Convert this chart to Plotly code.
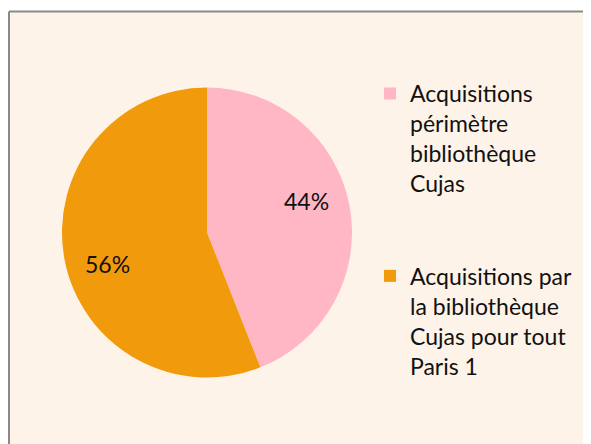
import math
import plotly.graph_objects as go

labels = ["Acquisitions<br>périmètre<br>bibliothèque<br>Cujas<br> <br> ",
          "Acquisitions par<br>la bibliothèque<br>Cujas pour tout<br>Paris 1"]
values = [44, 56]
colors = ["#FFB7C6", "#F19A0B"]

W, H = 583, 436
cx, cy, r = 199, 224.5, 145
FONT = "Lato"

fig = go.Figure(go.Pie(
    labels=labels,
    values=values,
    marker=dict(colors=colors, line=dict(width=0)),
    sort=False,
    direction="clockwise",
    rotation=0,
    textinfo="none",
    hoverinfo="label+percent",
    domain=dict(x=[(cx - r) / W, (cx + r) / W], y=[1 - (cy + r) / H, 1 - (cy - r) / H]),
))

# percent labels placed inside each slice, near its bisector (like the source's data labels)
total = sum(values)
annotations = []
start = 0.0
for v in values:
    frac = v / total
    mid = (start + frac / 2) * 2 * math.pi - math.radians(7)
    start += frac
    px = cx + 0.72 * r * math.sin(mid)
    py = cy - 0.72 * r * math.cos(mid)
    annotations.append(dict(x=px / W, y=1 - py / H, xref="paper", yref="paper",
                            xanchor="center", yanchor="middle",
                            text=f"{round(frac * 100)}%", showarrow=False,
                            font=dict(family=FONT, size=23, color="#111111")))

top = 1 - 3.5 / H
left = 1 / W
fig.update_layout(
    width=W, height=H,
    margin=dict(l=0, r=0, t=0, b=0),
    paper_bgcolor="#FEF3E8",
    font=dict(family=FONT, size=23, color="#111111"),
    showlegend=True,
    legend=dict(x=362 / W, y=1 - 64 / H, xanchor="left", yanchor="top",
                bgcolor="rgba(0,0,0,0)", valign="top",
                font=dict(family=FONT, size=23, color="#111111"),
                itemwidth=30, tracegroupgap=0),
    annotations=annotations,
    shapes=[
        dict(type="rect", xref="paper", yref="paper", layer="below",
             x0=0, x1=1, y0=top, y1=1, fillcolor="white", line=dict(width=0)),
        dict(type="line", xref="paper", yref="paper", layer="below",
             x0=left, x1=1, y0=top, y1=top, line=dict(color="#8A8A8A", width=2)),
        dict(type="line", xref="paper", yref="paper", layer="below",
             x0=left, x1=left, y0=0, y1=top, line=dict(color="#8A8A8A", width=2)),
    ],
)

fig.write_html("out.html")
